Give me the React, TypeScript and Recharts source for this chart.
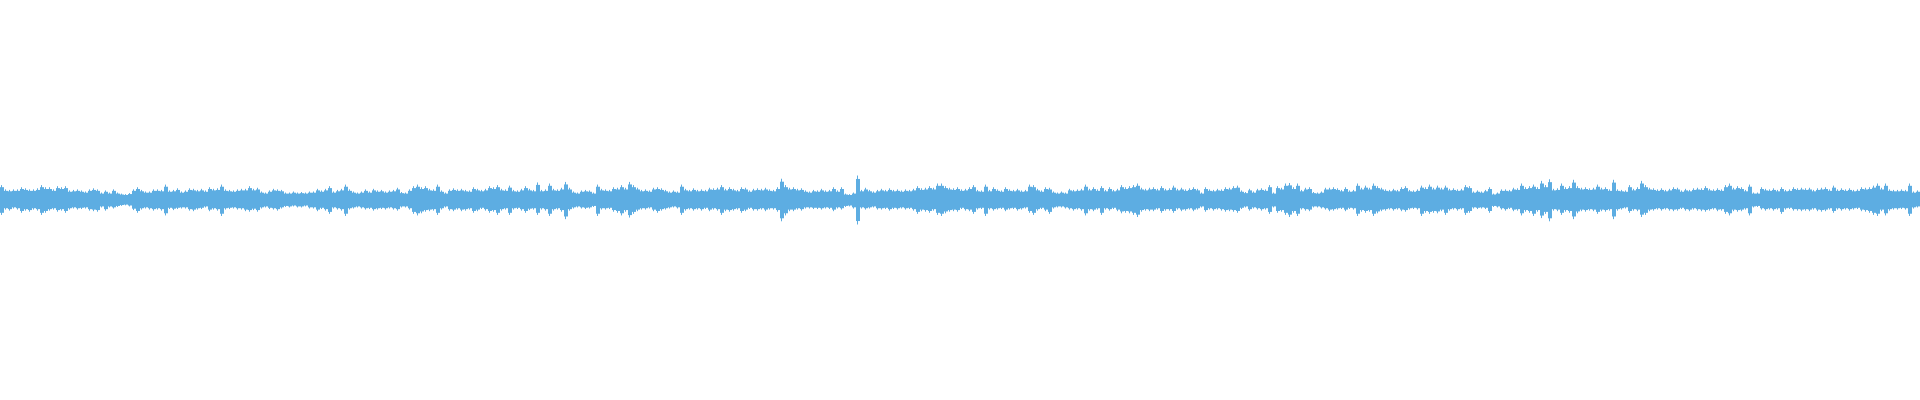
import React from "react";
import { BarChart, Bar, XAxis, YAxis } from "recharts";

// peak amplitude of the waveform, one value per 4px column block (up = above centre, down = below)
const seg1Up = [14, 10, 9.5, 10, 10, 12, 11, 10, 10, 11, 14, 12, 12, 10, 13, 12, 13, 9, 9.5, 10, 9, 8, 10, 11, 10, 7, 9, 7, 10, 7, 6, 5.5, 6.5, 10, 12, 9.5, 8, 8, 10, 10, 9.5, 14.5, 9, 9.5, 11, 8, 9, 11, 10.5, 9.5, 10.5, 9, 12, 10.5, 11, 14.5, 10, 9.5, 9, 10];
const seg1Down = [14, 9, 10, 8, 9, 12, 10, 11, 9, 10, 14, 12, 10, 9, 11, 10, 12, 9, 8, 9, 8.5, 8, 10, 10.5, 11, 7, 10, 7, 8, 6.5, 5.5, 5, 6, 9.5, 12, 9, 8, 9, 10, 9, 10, 14.5, 8.5, 9.5, 8.5, 8, 8, 10, 10.5, 9, 8.5, 7, 10.5, 9, 10, 15, 9, 8.5, 8, 9];

const seg2Up = [10.5, 10.5, 13, 10.5, 11.5, 8, 7, 9, 10.5, 10, 9.5, 7, 7, 8, 7, 7.5, 7, 8, 8, 10.5, 9, 10.5, 13, 8, 9.5, 10.5, 14.5, 10, 8, 7, 8, 10, 8, 10.5, 9, 9.5, 8, 9, 9.5, 11.5, 7.5, 7, 10, 13, 14.5, 12, 13, 10.5, 10, 14.5, 9, 7, 10, 11, 10, 10.5, 9.5, 9, 12, 10.5];
const seg2Down = [9, 10.5, 11, 9.5, 11, 8, 7, 8.5, 9, 10, 8, 6.5, 7, 6, 7, 7, 6, 8, 8, 10.5, 8.5, 10, 13, 8, 9, 10, 15, 9, 8, 7, 8, 9, 8.5, 10, 9, 8.5, 9, 8, 9, 10, 7, 7, 9, 13, 14.5, 12.5, 11, 10.5, 10, 14, 9, 7, 10, 10.5, 9, 10.5, 10, 9, 12, 10.5];

const seg3Up = [9.5, 10.5, 13, 12, 14, 10.5, 10, 13.5, 9.5, 9, 10.5, 13, 10.5, 9.5, 16.5, 9.5, 10, 15.5, 10.5, 10, 11.5, 17, 11.5, 8, 7, 9, 9.5, 9, 7, 14.5, 10.5, 10, 9.5, 12, 11.5, 14, 11.5, 17, 14, 11.5, 9.5, 10, 9, 11.5, 12, 11, 9.5, 8, 9, 8, 14.5, 10.5, 9.5, 11, 9.5, 10, 9.5, 11.5, 11, 11.5];
const seg3Down = [8.5, 10, 12, 11, 14, 10, 9, 14, 9, 8.5, 10, 12, 9.5, 9, 14, 9, 10, 15, 10, 9, 11, 18, 10, 8, 7, 8, 8.5, 8, 6.5, 15, 9, 9, 8.5, 11, 12, 14.5, 11, 16.5, 13, 10.5, 9, 9, 8, 10.5, 12, 10, 9, 8, 7, 8, 14, 10, 9, 10, 9, 10, 8.5, 10.5, 9, 10];

const seg4Up = [14, 10.5, 12, 10.5, 9.5, 12, 11.5, 9, 10.5, 11, 10.5, 11.5, 10, 9.5, 12, 20, 14, 11.5, 12, 10.5, 11, 9, 8, 9.5, 9, 10.5, 9, 9.5, 12, 9, 12, 6, 5.5, 7, 23, 9.5, 11.5, 9.5, 8, 9.5, 10.5, 9.5, 11, 9.5, 10, 9, 10, 9.5, 10.5, 13, 11, 11.5, 13, 11.5, 15.5, 15.5, 13, 11.5, 11, 12];
const seg4Down = [14, 10.5, 11, 10, 9, 12, 10.5, 8.5, 10, 10, 9, 10.5, 9, 9, 11, 20, 14.5, 10.5, 10.5, 9, 10, 8, 8, 8.5, 8.5, 9, 8, 8.5, 10.5, 8, 9, 6.5, 6, 8, 23, 8, 9, 8, 7, 9, 9, 8.5, 10, 8.5, 9, 8, 9, 8.5, 10, 13, 10.5, 11, 12, 10, 14, 15, 12.5, 11, 10.5, 11];

const seg5Up = [10, 10.5, 12, 14, 9.5, 9, 14.5, 9.5, 12, 10, 9, 12, 10, 9.5, 10.5, 9, 9.5, 14.5, 14, 10.5, 9, 12, 11.5, 8, 7, 8, 7, 10.5, 9.5, 10, 10.5, 14.5, 10.5, 12, 10, 13, 9.5, 12, 9.5, 10.5, 14, 12, 13, 14, 15.5, 11.5, 10.5, 11.5, 12, 10.5, 13, 10.5, 11, 13.5, 10.5, 11.5, 10, 11, 12, 10.5];
const seg5Down = [8.5, 10, 10.5, 13, 9, 8.5, 15, 9, 10, 9, 8.5, 10.5, 9, 8.5, 10, 9, 8, 12, 14, 10, 8.5, 10.5, 13, 8, 7, 7, 8, 9, 10, 9, 10, 14.5, 10, 10.5, 9, 14, 9, 10, 8.5, 10.5, 12.5, 12, 12.5, 14, 16, 11, 10, 10.5, 10.5, 9, 12, 10, 10, 12, 9, 10.5, 10, 9, 10.5, 9];

const seg6Up = [7, 12, 10, 9.5, 10.5, 10, 12, 11.5, 13, 13.5, 9, 7.5, 10.5, 8, 10.5, 11, 10, 14, 7, 13, 11.5, 15.5, 16, 12, 15.5, 9.5, 11.5, 12, 7.5, 7, 8, 11.5, 11.5, 12, 11, 9.5, 12, 9, 9.5, 15.5, 11.5, 13.5, 11.5, 15.5, 13, 11.5, 10, 9.5, 10.5, 9.5, 12, 13, 9.5, 9, 10, 13.5, 12, 14.5, 11.5, 13.5];
const seg6Down = [7, 11, 9, 10, 9, 10, 11, 10.5, 11, 12, 8.5, 7, 10, 8, 9, 10, 9, 13, 7, 12, 11, 14, 16, 12, 15, 9, 10, 10.5, 7, 7, 8, 9, 10.5, 10, 9, 8.5, 10.5, 8.5, 9, 15, 11, 12, 11, 15, 12.5, 10.5, 10, 9, 10, 9, 10.5, 11, 9, 8.5, 9, 15, 12, 13, 12, 12.5];

const seg7Up = [11.5, 13.5, 10.5, 11, 10, 10.5, 14, 13, 8, 9, 8, 9.5, 12, 6, 7, 10, 10, 9.5, 11.5, 11, 15.5, 12, 13, 14.5, 12, 18, 14, 19.5, 10.5, 11, 15.5, 12, 13, 19, 13, 11.5, 12, 11, 11.5, 14.5, 11.5, 12, 10, 19, 10, 9.5, 9, 14, 10.5, 12, 18, 14, 11.5, 11, 10, 11, 9.5, 10.5, 12, 11.5];
const seg7Down = [10.5, 14, 10, 9, 10, 9, 14, 12, 8, 8.5, 8, 8.5, 12, 6.5, 7, 9, 10, 8.5, 10.5, 10, 14.5, 11, 12, 15, 11, 17, 13, 20, 10, 10.5, 14, 11, 12, 18, 12.5, 10.5, 11, 10, 10.5, 13, 10.5, 11, 10, 18, 10, 9, 8, 12, 10, 10.5, 16, 14, 10.5, 10, 9, 10, 9, 10, 10.5, 10];

const seg8Up = [9, 10.5, 9.5, 11, 11.5, 11, 13, 10.5, 10, 11, 10, 14, 15.5, 11.5, 13, 12, 9.5, 14.5, 7, 7, 12, 10.5, 10, 11, 9.5, 12, 9.5, 10, 12, 11, 11.5, 11, 11.5, 9.5, 11, 11.5, 12, 10, 13.5, 10, 11, 10, 11, 9.5, 10, 12, 11.5, 12, 13.5, 15.5, 11.5, 15.5, 10, 9.5, 9.5, 10, 9.5, 15.5, 8, 9];
const seg8Down = [8.5, 10, 10.5, 9, 10, 10.5, 11, 10, 9, 10.5, 10, 13, 14.5, 10.5, 11, 10.5, 9, 14.5, 7, 6.5, 9, 10, 9, 10, 9, 13, 9, 8.5, 10, 10, 10.5, 10, 10.5, 9, 10.5, 11, 10.5, 9, 12, 9, 10, 9, 10, 9, 8.5, 10.5, 11, 12, 14, 15, 10.5, 14.5, 10, 9, 9, 8.5, 9, 15, 8, 7];

const upper = [...seg1Up, ...seg2Up, ...seg3Up, ...seg4Up, ...seg5Up, ...seg6Up, ...seg7Up, ...seg8Up];
const lower = [...seg1Down, ...seg2Down, ...seg3Down, ...seg4Down, ...seg5Down, ...seg6Down, ...seg7Down, ...seg8Down];

const data = upper.map((u, i) => ({ idx: i, up: u, down: lower[i], range: [-lower[i], u] }));

const WAVE = "#5dade2";

// each block: a solid body plus a 1px peak line
const WaveColumn = (props: any) => {
  const { x, y, width, height, payload } = props;
  if (height == null || !payload) return null;
  const top = Math.min(y, y + height);
  const h = Math.abs(height);
  const zero = top + (h * payload.up) / (payload.up + payload.down);
  const bodyTop = zero - (zero - top) * 0.86;
  const bodyBottom = zero + (top + h - zero) * 0.86;
  return (
    <g>
      <rect x={x} y={bodyTop} width={width} height={bodyBottom - bodyTop} fill={WAVE} />
      <rect x={x + 1} y={top} width={1} height={h} fill={WAVE} />
    </g>
  );
};

const App: React.FC = () => {
  return (
    <div style={{ position: "absolute", left: 0, top: 0, width: 1920, height: 400, background: "#fff" }}>
      <BarChart
        width={1920}
        height={400}
        data={data}
        margin={{ top: 0, right: 0, bottom: 0, left: 0 }}
        barCategoryGap={0}
        barGap={0}
      >
        <XAxis dataKey="idx" hide />
        <YAxis hide domain={[-188, 188]} />
        <Bar dataKey="range" fill={WAVE} shape={WaveColumn} isAnimationActive={false} />
      </BarChart>
    </div>
  );
};

export default App;
